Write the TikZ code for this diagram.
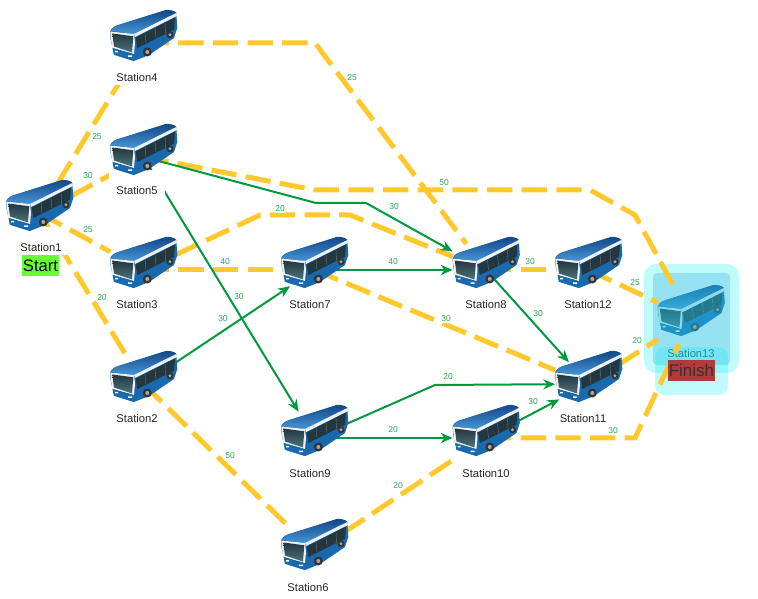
\documentclass[tikz,border=0pt]{standalone}
\usepackage{fontspec}
\setmainfont{Liberation Sans}
\usepackage{tikz}
\usetikzlibrary{arrows.meta}

\definecolor{dashyellow}{RGB}{255,200,45}
\definecolor{routegreen}{RGB}{0,154,62}
\definecolor{labelgreen}{RGB}{40,170,90}
\definecolor{busblue}{RGB}{25,105,175}
\definecolor{busnavy}{RGB}{18,70,135}
\definecolor{buslight}{RGB}{70,150,215}
\definecolor{busglass}{RGB}{35,55,65}
\definecolor{busglasslow}{RGB}{75,115,120}
\definecolor{startgreen}{RGB}{102,255,51}
\definecolor{finishred}{RGB}{178,58,58}
\definecolor{glowouter}{RGB}{0,240,240}
\definecolor{glowinner}{RGB}{60,170,220}
\definecolor{finishtext}{RGB}{40,140,155}

\tikzset{
  stopbox/.style={minimum width=49.5pt, minimum height=39pt, inner sep=0pt},
  stationlabel/.style={anchor=base, font=\fontsize{8.4}{10}\selectfont, text=black!85, fill=white, inner sep=0.5pt},
  tallstation/.style={stationlabel, text height=18pt, text depth=2pt, minimum width=42pt},
  weight/.style={font=\fontsize{6.4}{8}\selectfont, text=labelgreen, fill=white, inner sep=0.4pt},
  yellowroute/.style={draw=dashyellow, line width=3.75pt, dash pattern=on 19pt off 7pt},
  greenroute/.style={draw=routegreen, line width=1.5pt, -{Stealth[length=9pt, width=7.5pt]}},
  bus/.pic={
    \begin{scope}[shift={(-33.5,-33)}]
      % silhouette
      \fill[busblue] (0,21.3) .. controls (2,17) and (6,15.5) .. (9,14.7) -- (55.7,0) .. controls (60,-0.5) and (65,1) .. (66.3,3)
        -- (67.3,18) -- (64,28) -- (39,45) -- (24,51) -- (4,44.7) -- (0.7,29.7) -- cycle;
      % roof
      \shade[top color=busnavy, bottom color=buslight] (1,20.8) .. controls (3,17) and (6,15.8) .. (9,15) -- (55.7,0.3) .. controls (60,-0.2) and (65,1) .. (66.3,3) -- (24,24) -- cycle;
      % white stripe and side windows
      \fill[black!6] (24,24) -- (66.3,3) -- (67,6) -- (25,27) -- cycle;
      \fill[busglass] (25.7,27.5) -- (65,7.5) -- (64,19.7) -- (27.3,38) -- cycle;
      \draw[black!55, line width=0.3pt] (35,23) -- (36,33) (45,18) -- (46,28) (55,12.8) -- (55.5,24);
      % front
      \fill[black!6] (0.2,21.5) -- (24,24) -- (25,33) -- (24,44) -- (2,38) -- cycle;
      \shade[top color=busglass, bottom color=busglasslow] (2.3,23.5) -- (23.3,26.3) -- (22,42.5) -- (4,36.5) -- cycle;
      \fill[busblue] (2.8,38) -- (21.7,43.5) -- (24,51) -- (4,44.7) -- cycle;
      \fill[white] (5,41) rectangle (8,42.5) (18,45.5) rectangle (22,47);
      % wheels
      \fill[black!80] (37.3,42) circle (4.5);
      \fill[black!35] (37.3,42) circle (2);
      \fill[black!80] (60,24.7) circle (3.6);
      \fill[black!35] (60,24.7) circle (1.6);
    \end{scope}
  },
}

\begin{document}
\begin{tikzpicture}[x=0.75pt, y=-0.75pt]
        \useasboundingbox (0, 0) rectangle (758, 599);

        \node[stopbox] (S1) at (39.5, 213) {};
        \node[stopbox] (S2) at (143.5, 384) {};
        \node[stopbox] (S3) at (143.5, 270) {};
        \node[stopbox] (S4) at (143.5, 43) {};
        \node[stopbox] (S5) at (143.5, 157) {};
        \node[stopbox] (S6) at (314.5, 552) {};
        \node[stopbox] (S7) at (314.5, 270) {};
        \node[stopbox] (S8) at (486, 270) {};
        \node[stopbox] (S9) at (314.5, 438) {};
        \node[stopbox] (S10) at (486, 438) {};
        \node[stopbox] (S11) at (588.5, 384) {};
        \node[stopbox] (S12) at (588.5, 270) {};
        \node[stopbox] (S13) at (691, 318) {};

        \coordinate (b4) at (315, 43);
        \coordinate (b3a) at (260, 215);
        \coordinate (b3b) at (350, 215);
        \coordinate (b5a) at (315, 190);
        \coordinate (b5b) at (590, 190);
        \coordinate (b5c) at (635, 215);
        \coordinate (b10) at (635, 438);
        \coordinate (g5a) at (316, 203);
        \coordinate (g5b) at (366, 203);
        \coordinate (g9) at (435, 385);

        % finish highlight, under the routes
        \pic at (S13) {bus};
        \fill[glowouter, fill opacity=0.25, rounded corners=9pt] (644, 264) rectangle (739, 373);
        \fill[glowinner, fill opacity=0.3, rounded corners=3pt] (653, 273) rectangle (730, 365);
        \fill[glowouter, fill opacity=0.25, rounded corners=7pt] (655, 347) rectangle (728, 395);
        \node[font=\fontsize{8.4}{10}\selectfont, text=finishtext, inner sep=0.5pt] (L13) at (691, 353) {Station13};

        % dashed routes
        \draw[yellowroute] (S1.center) -- (S4);
        \draw[yellowroute] (S4.center) -- (b4) -- (S8);
        \draw[yellowroute] (S1.center) -- (S5);
        \draw[yellowroute] (S1.center) -- (S3);
        \draw[yellowroute] (S1.center) -- (S2);
        \draw[yellowroute] (S3.center) -- (S7);
        \draw[yellowroute] (S3.center) -- (b3a) -- (b3b) -- (S8);
        \draw[yellowroute] (S5.center) -- (b5a) -- (b5b) -- (b5c) -- (S13);
        \draw[yellowroute] (S7.center) -- (S11);
        \draw[yellowroute] (S8.center) -- (S12);
        \draw[yellowroute] (S12.center) -- (S13);
        \draw[yellowroute] (S11.center) -- (S13);
        \draw[yellowroute] (S10.center) -- (b10) -- (S13);
        \draw[yellowroute] (S2.center) -- (S6);
        \draw[yellowroute] (S6.center) -- (S10);

        % green routes
        \draw[greenroute] (S5.center) -- (g5a) -- (g5b) -- (S8);
        \draw[greenroute] (S5.center) -- (S9);
        \draw[greenroute, shorten >=-8pt] (S2.center) -- (S7);
        \draw[greenroute] (S7.center) -- (S8);
        \draw[greenroute, shorten >=-4.5pt] (S8.center) -- (S11);
        \draw[greenroute] (S9.center) -- (g9) -- (S11);
        \draw[greenroute] (S9.center) -- (S10);
        \draw[greenroute, shorten >=-3.5pt] (S10.center) -- (S11);

        \node[tallstation] (L1) at (41, 252) {Station1};
        \node[stationlabel] (L2) at (137, 422) {Station2};
        \node[stationlabel] (L3) at (137, 309) {Station3};
        \node[tallstation] (L4) at (137, 82) {Station4};
        \node[tallstation] (L5) at (137, 195) {Station5};
        \node[stationlabel] (L6) at (308, 591) {Station6};
        \node[stationlabel] (L7) at (310, 309) {Station7};
        \node[stationlabel] (L8) at (486, 309) {Station8};
        \node[stationlabel] (L9) at (310, 477) {Station9};
        \node[tallstation] (L10) at (486, 477) {Station10};
        \node[stationlabel] (L11) at (583, 422) {Station11};
        \node[stationlabel] (L12) at (588, 309) {Station12};

        \pic at (S1) {bus};
        \pic at (S2) {bus};
        \pic at (S3) {bus};
        \pic at (S4) {bus};
        \pic at (S5) {bus};
        \pic at (S6) {bus};
        \pic at (S7) {bus};
        \pic at (S8) {bus};
        \pic at (S9) {bus};
        \pic at (S10) {bus};
        \pic at (S11) {bus};
        \pic at (S12) {bus};

        \node[fill=startgreen, font=\fontsize{12.5}{14}\selectfont, inner sep=0pt, minimum width=27.75pt, minimum height=15.75pt] (start) at (40.5, 265.5) {Start};
        \node[fill=finishred, text=black!80, font=\fontsize{12.75}{14}\selectfont, inner sep=0pt, minimum width=35.25pt, minimum height=15.75pt] (finish) at (691.5, 370.5) {Finish};

        \node[weight] (w1) at (97, 137) {25};
        \node[weight] (w2) at (352, 78) {25};
        \node[weight] (w3) at (88, 176) {30};
        \node[weight] (w4) at (88, 230) {25};
        \node[weight] (w5) at (102, 298) {20};
        \node[weight] (w6) at (225, 262) {40};
        \node[weight] (w7) at (280, 209) {20};
        \node[weight] (w8) at (444, 183) {50};
        \node[weight] (w9) at (446, 319) {30};
        \node[weight] (w10) at (530, 262) {30};
        \node[weight] (w11) at (635, 283) {25};
        \node[weight] (w12) at (637, 341) {20};
        \node[weight] (w13) at (613, 431) {30};
        \node[weight] (w14) at (230, 456) {50};
        \node[weight] (w15) at (398, 486) {20};
        \node[weight] (w16) at (394, 207) {30};
        \node[weight] (w17) at (239, 297) {30};
        \node[weight] (w18) at (223, 319) {30};
        \node[weight] (w19) at (393, 262) {40};
        \node[weight] (w20) at (538, 314) {30};
        \node[weight] (w21) at (448, 377) {20};
        \node[weight] (w22) at (393, 430) {20};
        \node[weight] (w23) at (533, 402) {30};
      \end{tikzpicture}
\end{document}
